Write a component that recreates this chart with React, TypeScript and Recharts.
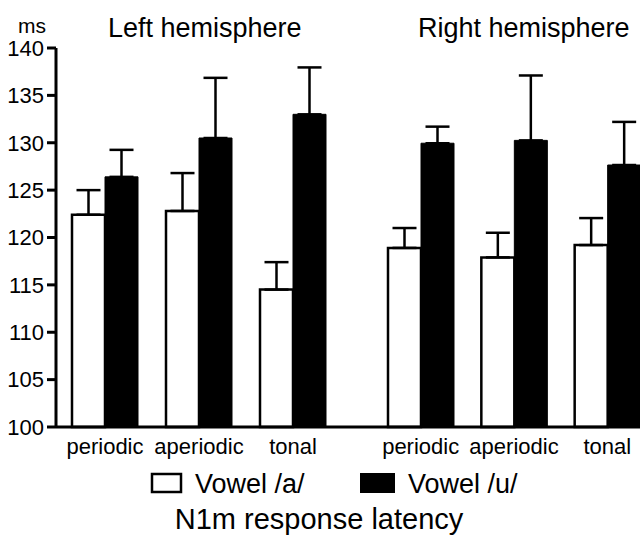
import React from 'react';
import { BarChart, Bar, XAxis, YAxis, ErrorBar } from 'recharts';

// stimulus types shown under each hemisphere
const categories = ['periodic', 'aperiodic', 'tonal'];

// N1m latency (ms), vowel /a/ and /u/, with upper error
const leftA = [122.4, 122.8, 114.5];
const leftAErr = [2.6, 4.0, 2.9];
const leftU = [126.4, 130.5, 133.0];
const leftUErr = [2.85, 6.35, 4.95];

const rightA = [118.9, 117.9, 119.2];
const rightAErr = [2.1, 2.6, 2.85];
const rightU = [129.95, 130.25, 127.65];
const rightUErr = [1.75, 6.85, 4.55];

const yTicks = [100, 105, 110, 115, 120, 125, 130, 135, 140];

const FONT = '"Liberation Sans", Arial, Helvetica, sans-serif';
const NARROW = '"Liberation Sans Narrow", "Arial Narrow", "Liberation Sans", sans-serif';

const build = (a: number[], aErr: number[], u: number[], uErr: number[]) =>
  categories.map((name, i) => ({
    name,
    a: a[i],
    aErr: [0, aErr[i]],
    u: u[i],
    uErr: [0, uErr[i]],
  }));

const leftData = build(leftA, leftAErr, leftU, leftUErr);
const rightData = build(rightA, rightAErr, rightU, rightUErr);

const H = 537;
const margin = { top: 48, right: 0, bottom: 80, left: 0 };

const bars = (xAxisId: string) => [
  <Bar key="a" dataKey="a" xAxisId={xAxisId} fill="#fff" stroke="#000" strokeWidth={2.5} isAnimationActive={false}>
    <ErrorBar dataKey="aErr" width={12} stroke="#000" strokeWidth={2.5} direction="y" />
  </Bar>,
  <Bar key="u" dataKey="u" xAxisId={xAxisId} fill="#000" stroke="#000" strokeWidth={1} isAnimationActive={false}>
    <ErrorBar dataKey="uErr" width={12} stroke="#000" strokeWidth={2.5} direction="y" />
  </Bar>,
];

const xTick = { fill: '#000', fontSize: 22, fontFamily: FONT };

export default function App() {
  return (
    <div style={{ position: 'absolute', left: 0, top: 0, width: 640, height: H, overflow: 'hidden', background: '#fff' }}>
      {/* right hemisphere panel, drawn underneath */}
      <div style={{ position: 'absolute', left: 340, top: 0 }}>
        <BarChart width={320} height={H} data={rightData} margin={margin} barSize={33} barGap={0}>
          <YAxis domain={[100, 140]} ticks={yTicks} hide />
          <XAxis
            xAxisId="cat"
            dataKey="name"
            padding={{ left: 34, right: 6 }}
            axisLine={false}
            tickLine={false}
            tickSize={0}
            tickMargin={11}
            tick={xTick}
            interval={0}
            height={30}
          />
          {bars('cat')}
        </BarChart>
      </div>
      {/* left hemisphere panel, full width; the "base" axis gives the baseline across both panels */}
      <div style={{ position: 'absolute', left: 0, top: 0 }}>
        <BarChart width={640} height={H} data={leftData} margin={margin} barSize={33} barGap={0}>
          <YAxis
            domain={[100, 140]}
            ticks={yTicks}
            width={56}
            stroke="#000"
            strokeWidth={3}
            tickSize={9}
            tickMargin={3}
            tick={{ fill: '#000', fontSize: 22, fontFamily: NARROW }}
          />
          <XAxis
            xAxisId="base"
            type="number"
            domain={[0, 1]}
            stroke="#000"
            strokeWidth={3}
            tick={false}
            tickLine={false}
            height={1}
          />
          <XAxis
            xAxisId="cat"
            dataKey="name"
            padding={{ left: 2, right: 300 }}
            axisLine={false}
            tickLine={false}
            tickSize={0}
            tickMargin={10}
            tick={xTick}
            interval={0}
            height={29}
          />
          {bars('cat')}
        </BarChart>
      </div>
      <svg width={640} height={H} style={{ position: 'absolute', left: 0, top: 0, pointerEvents: 'none' }} fontFamily={FONT}>
        <text x={18} y={33} fontSize={21} fill="#000">ms</text>
        <text x={108} y={37} fontSize={27} fill="#000">Left hemisphere</text>
        <text x={418} y={37} fontSize={27} fill="#000">Right hemisphere</text>
        <rect x={152} y={474} width={29} height={18} fill="#fff" stroke="#000" strokeWidth={2.5} />
        <text x={195} y={493} fontSize={27} fill="#000">Vowel /a/</text>
        <rect x={360} y={473} width={35} height={20} fill="#000" />
        <text x={408} y={493} fontSize={27} fill="#000">Vowel /u/</text>
        <text x={319} y={529} fontSize={29} fill="#000" textAnchor="middle">N1m response latency</text>
      </svg>
    </div>
  );
}
